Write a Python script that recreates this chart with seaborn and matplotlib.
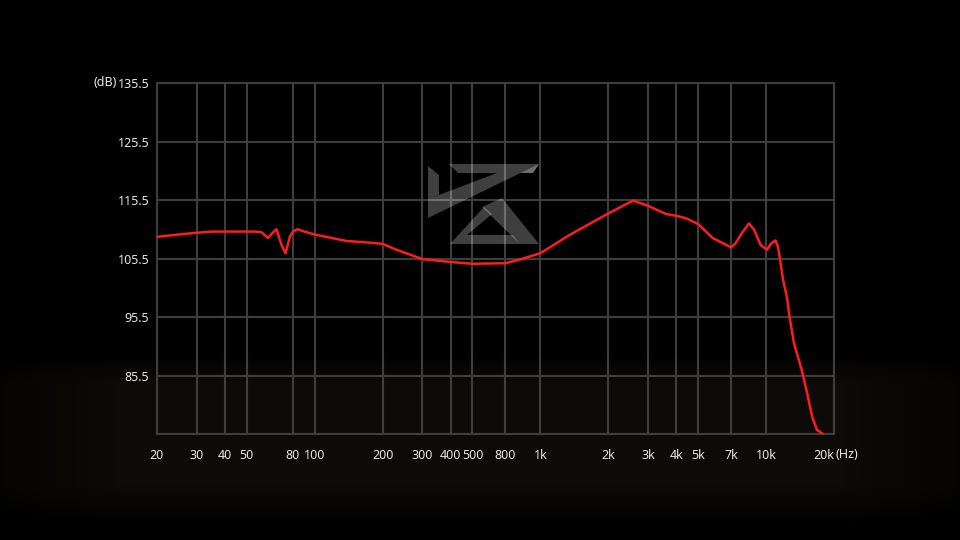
import numpy as np
import pandas as pd
import matplotlib
matplotlib.use("Agg")
import matplotlib.pyplot as plt
from matplotlib.patches import Polygon
import seaborn as sns

# ---- data ----
freq_hz = [20, 25, 30, 35, 40, 50, 54.3, 58, 62.1, 65.1, 67.7, 71.3, 74.2, 77.6,
           80, 83.8, 90, 100, 138, 175, 200, 230, 300, 400, 500, 700, 808, 1000,
           1344, 2000, 2576, 3000, 3600, 4000, 4400, 5000, 5800, 7000, 7320, 7900,
           8400, 8860, 9460, 10100, 10500, 11000, 11300, 11600, 11900, 12400,
           12700, 13300, 14400, 15200, 16000, 16800, 17900]
spl_db = [109.2, 109.6, 109.9, 110.1, 110.1, 110.1, 110.1, 110.0, 109.0, 109.9,
          110.5, 107.8, 106.4, 109.2, 110.1, 110.5, 110.1, 109.6, 108.5, 108.2,
          108.0, 107.0, 105.4, 104.9, 104.6, 104.7, 105.3, 106.4, 109.5, 113.2,
          115.4, 114.5, 113.1, 112.8, 112.4, 111.4, 109.0, 107.4, 108.1, 110.1,
          111.5, 110.4, 107.8, 107.0, 108.0, 108.6, 107.5, 104.7, 101.8, 98.7,
          95.6, 91.0, 86.4, 82.5, 78.5, 76.2, 75.5]

x_tick_pos = [20, 30, 40, 50, 80, 100, 200, 300, 400, 500, 700, 1000,
              2000, 3000, 4000, 5000, 7000, 10000, 20000]
x_tick_labels = ["20", "30", "40", "50", "80", "100", "200", "300", "400", "500",
                 "800", "1k", "2k", "3k", "4k", "5k", "7k", "10k", "20k"]
y_ticks = [75.5, 85.5, 95.5, 105.5, 115.5, 125.5, 135.5]
y_tick_labels = ["", "85.5", "95.5", "105.5", "115.5", "125.5", "135.5"]

df = pd.DataFrame({"freq": freq_hz, "spl": spl_db})

sns.set_theme(style="dark")
plt.rcParams["font.family"] = ["Noto Sans", "DejaVu Sans"]

W, H = 960, 540
fig = plt.figure(figsize=(9.6, 5.4), dpi=100, facecolor="black")

# background: black with a faint warm band in the lower part
bg = fig.add_axes([0, 0, 1, 1], zorder=-5)
rows = np.arange(H)[:, None]
cols = np.arange(W)[None, :]
tv = np.clip((rows - 352) / 30.0, 0, 1) * np.clip((525 - rows) / 40.0, 0, 1)
th = np.clip(cols / 120.0, 0, 1) * np.clip((W - cols) / 120.0, 0, 1)
t = (tv * (0.35 + 0.65 * th))[:, :, None]
warm = np.array([0.052, 0.042, 0.028])
img = t * warm
bg.imshow(img, aspect="auto", extent=[0, 1, 0, 1], origin="upper")
bg.set_axis_off()

ax = fig.add_axes([157 / W, 1 - 434 / H, 677 / W, 351 / H])
ax.set_facecolor("none")

grid_c = "#3e3e3e"
ax.set_xscale("log")
ax.set_xlim(20, 20000)
ax.set_ylim(75.5, 135.5)
for xv in x_tick_pos:
    ax.axvline(xv, color=grid_c, lw=1.5, zorder=1)
for yv in y_ticks:
    ax.axhline(yv, color=grid_c, lw=1.5, zorder=1)
ax.grid(False)
for s in ax.spines.values():
    s.set_color(grid_c)
    s.set_linewidth(1.5)

ax.set_xticks(x_tick_pos)
ax.set_xticklabels(x_tick_labels)
ax.xaxis.set_minor_locator(matplotlib.ticker.NullLocator())
ax.set_yticks(y_ticks)
ax.set_yticklabels(y_tick_labels)
ax.tick_params(axis="both", length=0, colors="#e6e6e6", labelsize=9)
ax.tick_params(axis="x", pad=10.5)
ax.tick_params(axis="y", pad=5.5)
xl = ax.get_xticklabels()
xl[-1].set_horizontalalignment("right")

# watermark logo (decorative)
logo_c = (1, 1, 1, 0.25)
def poly(pts):
    fig.add_artist(Polygon([(x / W, 1 - y / H) for x, y in pts], closed=True,
                           facecolor=logo_c, edgecolor="none", zorder=2))
poly([(428, 166), (439, 175), (439, 195), (428, 201)])                 # left bar
poly([(449, 164), (539, 164), (533, 173), (458, 173)])                 # top bar
poly([(533, 173), (539, 164), (428, 218), (428, 201), (439, 195), (497, 173)])  # Z diagonal
poly([(482, 207), (502, 198), (539, 244), (520, 244)])                 # K leg
poly([(450, 244), (484, 207), (492, 214), (467, 235), (513, 235), (520, 244)])  # delta

sns.lineplot(data=df, x="freq", y="spl", ax=ax, color="#ff1c1c", lw=1.8,
             zorder=4, clip_on=True)
ax.set_xlabel("")
ax.set_ylabel("")

fig.text(117 / W, 1 - 83 / H, "(dB)", color="#e6e6e6", fontsize=9,
         ha="right", va="center")
fig.text(836 / W, 1 - 454 / H, "(Hz)", color="#e6e6e6", fontsize=9,
         ha="left", va="center")

fig.savefig("out.png", dpi=100, facecolor="black")
